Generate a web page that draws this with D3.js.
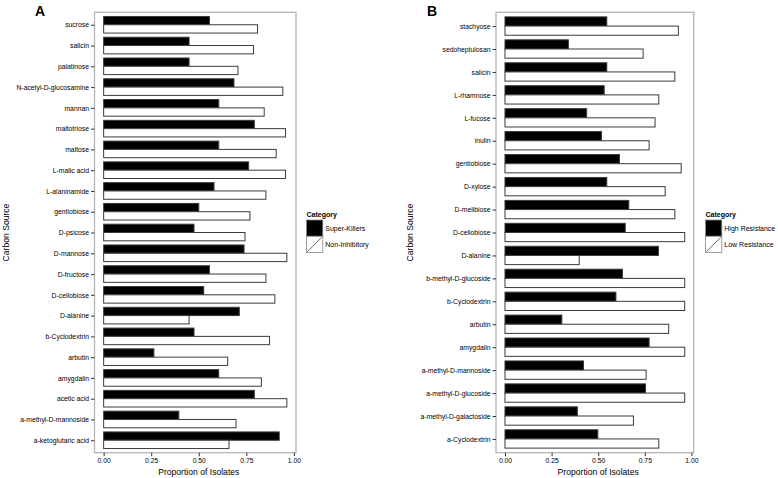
<!DOCTYPE html>
<html>
<head>
<meta charset="utf-8">
<script src="https://cdn.jsdelivr.net/npm/d3@7"></script>
<style>
  body { margin: 0; background: #fff; }
  text { font-family: "Liberation Sans", Arial, sans-serif; fill: #000; }
</style>
</head>
<body>
<div id="chart"></div>
<script>
// panel A
var catsA = ["sucrose", "salicin", "palatinose", "N-acetyl-D-glucosamine", "mannan", "maltotriose",
	"maltose", "L-malic acid", "L-alaninamide", "gentiobiose", "D-psicose", "D-mannose", "D-fructose",
	"D-cellobiose", "D-alanine", "b-Cyclodextrin", "arbutin", "amygdalin", "acetic acid",
	"a-methyl-D-mannoside", "a-ketoglutaric acid"];
var superKillers = [0.556, 0.449, 0.449, 0.685, 0.605, 0.792, 0.605, 0.762, 0.580, 0.500, 0.475,
	0.738, 0.556, 0.526, 0.713, 0.475, 0.264, 0.605, 0.792, 0.395, 0.923];
var nonInhibitory = [0.809, 0.788, 0.706, 0.942, 0.844, 0.956, 0.907, 0.956, 0.853, 0.769, 0.743,
	0.963, 0.853, 0.900, 0.449, 0.872, 0.652, 0.829, 0.963, 0.696, 0.659];

// panel B
var catsB = ["stachyose", "sedoheptulosan", "salicin", "L-rhamnose", "L-fucose", "inulin", "gentiobiose",
	"D-xylose", "D-melibiose", "D-cellobiose", "D-alanine", "b-methyl-D-glucoside", "b-Cyclodextrin",
	"arbutin", "amygdalin", "a-methyl-D-mannoside", "a-methyl-D-glucoside", "a-methyl-D-galactoside",
	"a-Cyclodextrin"];
var highResistance = [0.546, 0.340, 0.546, 0.532, 0.438, 0.518, 0.614, 0.546, 0.664, 0.645, 0.823,
	0.630, 0.595, 0.305, 0.773, 0.421, 0.754, 0.388, 0.498];
var lowResistance = [0.930, 0.741, 0.911, 0.825, 0.805, 0.773, 0.945, 0.859, 0.911, 0.964, 0.398,
	0.964, 0.964, 0.878, 0.964, 0.757, 0.964, 0.689, 0.825];

var xTicks = [0, 0.25, 0.5, 0.75, 1];

var width = 778, height = 478;

var svg = d3.select("#chart").append("svg")
	.attr("width", width)
	.attr("height", height);

var formatTick = d3.format(".2f");

drawPanel({
	letter: "A", letterX: 35,
	left: 94.5, right: 296, top: 12.3, bottom: 452.7,
	titleX: 6,
	cats: catsA,
	series: [superKillers, nonInhibitory],
	names: ["Super-Killers", "Non-Inhibitory"],
	legendX: 306.5
});

drawPanel({
	letter: "B", letterX: 427,
	left: 496, right: 693.7, top: 12.3, bottom: 452.7,
	titleX: 410,
	cats: catsB,
	series: [highResistance, lowResistance],
	names: ["High Resistance", "Low Resistance"],
	legendX: 705.5
});

function drawPanel(p) {
	var g = svg.append("g");

	var maxV = d3.max(p.series.flat());
	// ggplot style 5% expansion
	var x = d3.scaleLinear()
		.domain([-0.05 * maxV, maxV * 1.05])
		.range([p.left, p.right]);

	var y = d3.scalePoint()
		.domain(p.cats)
		.range([p.top, p.bottom])
		.padding(0.6);

	var step = y.step();
	var sub = d3.scaleBand()
		.domain([0, 1])
		.range([-0.4 * step, 0.4 * step]);

	// panel background + border
	g.append("rect")
		.attr("x", p.left)
		.attr("y", p.top)
		.attr("width", p.right - p.left)
		.attr("height", p.bottom - p.top)
		.attr("fill", "#fff")
		.attr("stroke", "#b5b5b5")
		.attr("stroke-width", 1.3);

	// bars
	p.series.forEach(function(vals, si) {
		g.append("g").selectAll("rect")
			.data(p.cats)
			.join("rect")
			.attr("x", x(0))
			.attr("y", (d) => y(d) + sub(si))
			.attr("width", (d, i) => x(vals[i]) - x(0))
			.attr("height", sub.bandwidth())
			.attr("fill", si === 0 ? "#000" : "#fff")
			.attr("stroke", "#3a3a3a")
			.attr("stroke-width", 1);
	});

	// y axis
	var yAxis = d3.axisLeft(y).tickSize(3.5).tickPadding(2).tickSizeOuter(0);
	var gy = g.append("g")
		.attr("transform", `translate(${p.left},0)`)
		.call(yAxis);
	gy.select(".domain").remove();
	gy.selectAll(".tick line").attr("stroke", "#333");
	gy.selectAll(".tick text")
		.attr("fill", "#000")
		.style("font-size", "6.8px")
		.style("font-family", "'Liberation Sans', Arial, sans-serif");

	// x axis
	var xAxis = d3.axisBottom(x).tickValues(xTicks).tickFormat(formatTick).tickSize(3.5).tickPadding(2);
	var gx = g.append("g")
		.attr("transform", `translate(0,${p.bottom})`)
		.call(xAxis);
	gx.select(".domain").remove();
	gx.selectAll(".tick line").attr("stroke", "#333");
	gx.selectAll(".tick text")
		.attr("fill", "#000")
		.style("font-size", "6.8px")
		.style("font-family", "'Liberation Sans', Arial, sans-serif");

	// axis titles
	g.append("text")
		.attr("x", (x(0) + x(1)) / 2)
		.attr("y", 474.5)
		.attr("text-anchor", "middle")
		.style("font-size", "8.6px")
		.text("Proportion of Isolates");

	g.append("text")
		.attr("transform", `translate(${p.titleX + 3},${(p.top + p.bottom) / 2}) rotate(-90)`)
		.attr("text-anchor", "middle")
		.style("font-size", "8.6px")
		.text("Carbon Source");

	// panel letter
	g.append("text")
		.attr("x", p.letterX)
		.attr("y", 15.5)
		.style("font-size", "14px")
		.style("font-weight", "bold")
		.text(p.letter);

	// legend
	var lg = g.append("g").attr("transform", `translate(${p.legendX},0)`);
	lg.append("text")
		.attr("x", 0)
		.attr("y", 217)
		.style("font-size", "7px")
		.style("font-weight", "bold")
		.text("Category");

	var keySize = 16.3;
	p.names.forEach(function(name, i) {
		var ky = 220 + i * keySize;
		lg.append("rect")
			.attr("x", 0)
			.attr("y", ky)
			.attr("width", keySize)
			.attr("height", keySize)
			.attr("fill", i === 0 ? "#000" : "#fff")
			.attr("stroke", "#888")
			.attr("stroke-width", 0.8);
		if (i === 1) {
			lg.append("line")
				.attr("x1", 1)
				.attr("y1", ky + keySize - 1)
				.attr("x2", keySize - 1)
				.attr("y2", ky + 1)
				.attr("stroke", "#444")
				.attr("stroke-width", 0.8);
		}
		lg.append("text")
			.attr("x", keySize + 2.5)
			.attr("y", ky + keySize / 2)
			.attr("dy", "0.35em")
			.style("font-size", "7px")
			.text(name);
	});
}
</script>
</body>
</html>
